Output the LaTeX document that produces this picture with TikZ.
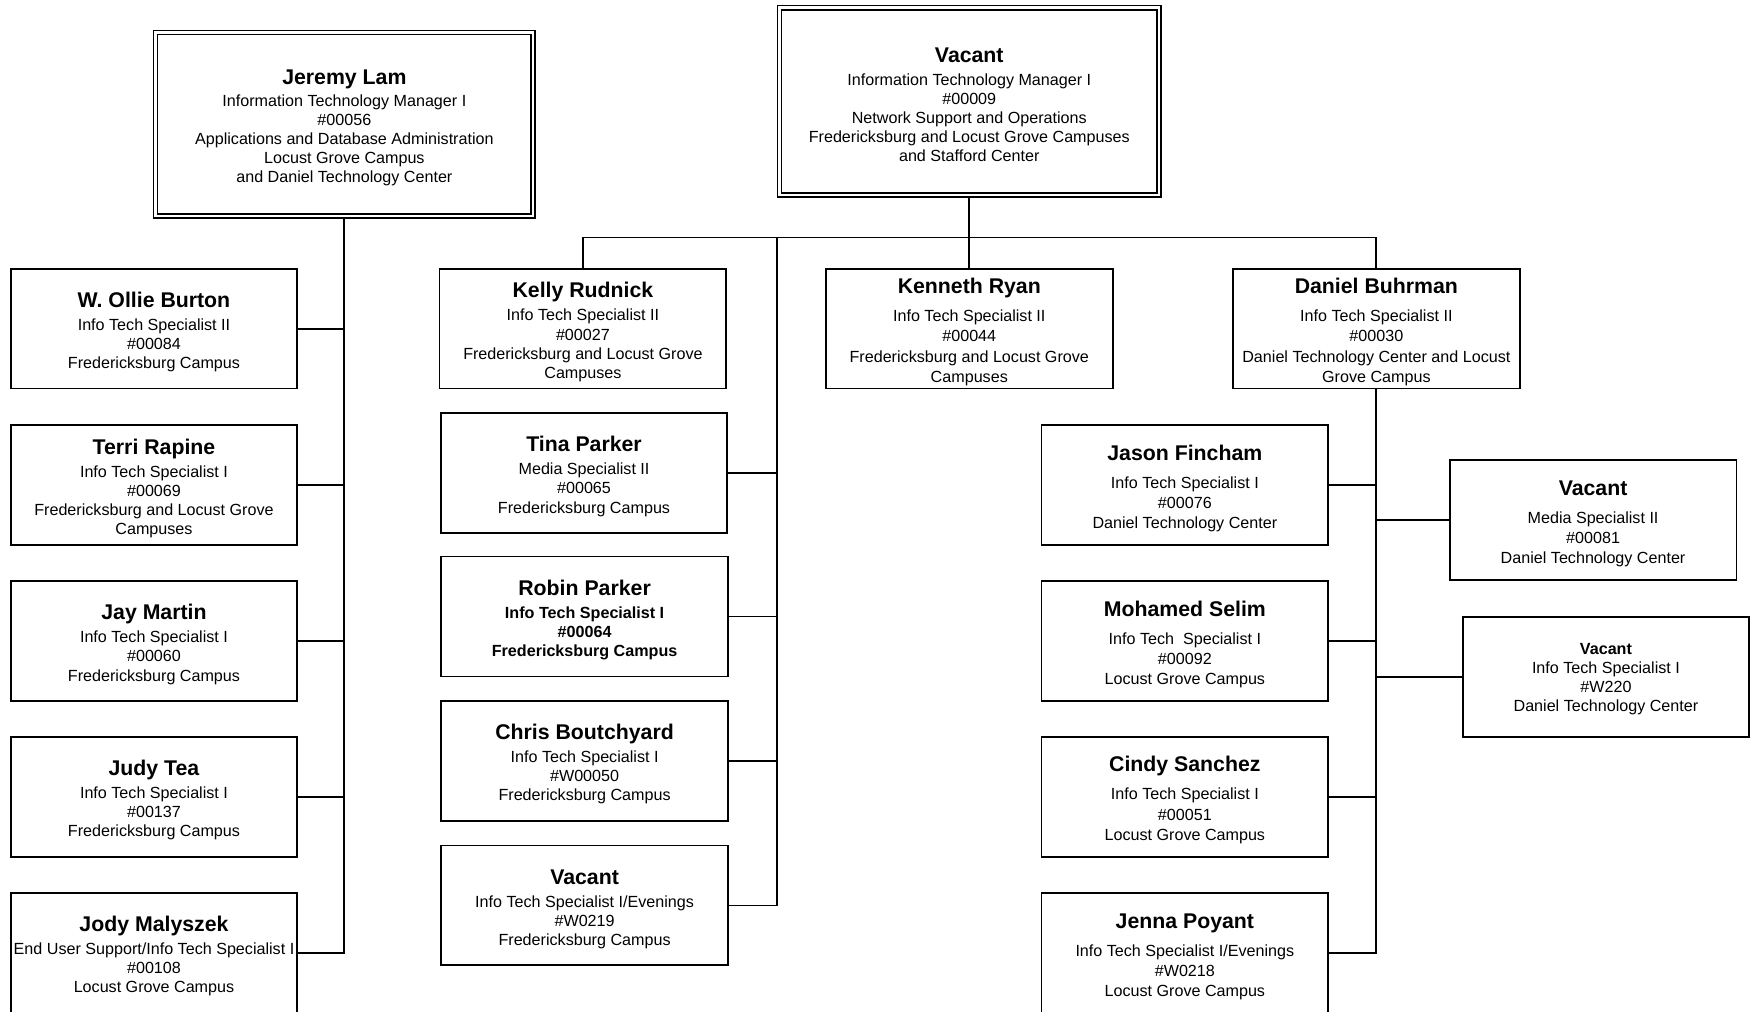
\documentclass[tikz,border=0pt]{standalone}
\usepackage{fontspec}
\setmainfont{Liberation Sans}

\newcommand{\who}[1]{\rule{0pt}{9.8pt}{\fontsize{9.5}{11}\selectfont\bfseries #1}}

\begin{document}
\begin{tikzpicture}[x=0.5pt,y=-0.5pt,line width=0.8pt,
    post/.style={draw,rectangle,align=center,inner sep=0pt,minimum width=128pt,
      minimum height=53.5pt,font=\fontsize{7.2}{8.5}\selectfont},
    wide/.style={post,font=\fontsize{7.2}{9}\selectfont},
    head/.style={post,double,double distance=1.2pt,line width=0.65pt}]
\useasboundingbox (0,0) rectangle (1568,903);
\clip (0,0) rectangle (1568,903);

\node[head,minimum width=168.5pt,minimum height=82pt] (lam) at (307.5,111)
  {\who{Jeremy Lam}\\[1.5pt] Information Technology Manager I\\ \#00056\\
   Applications and Database Administration\\ Locust Grove Campus\\ and Daniel Technology Center};
\node[head,minimum width=169.5pt,minimum height=83.5pt] (netmgr) at (865.5,90.5)
  {\who{Vacant}\\[1.5pt] Information Technology Manager I\\ \#00009\\
   Network Support and Operations\\ Fredericksburg and Locust Grove Campuses\\ and Stafford Center};

\node[post] (burton) at (137.5,293.5)
  {\who{W. Ollie Burton}\\[1.8pt] Info Tech Specialist II\\ \#00084\\ Fredericksburg Campus};
\node[post] (rapine) at (137.5,433)
  {\who{Terri Rapine}\\[1.8pt] Info Tech Specialist I\\ \#00069\\ Fredericksburg and Locust Grove\\ Campuses};
\node[post] (martin) at (137.5,572.5)
  {\who{Jay Martin}\\[1.8pt] Info Tech Specialist I\\ \#00060\\ Fredericksburg Campus};
\node[post] (tea) at (137.5,711.5)
  {\who{Judy Tea}\\[1.8pt] Info Tech Specialist I\\ \#00137\\ Fredericksburg Campus};
\node[post] (malyszek) at (137.5,851)
  {\who{Jody Malyszek}\\[1.8pt] End User Support/Info Tech Specialist I\\ \#00108\\ Locust Grove Campus};

\node[post] (rudnick) at (520.5,293.5)
  {\who{Kelly Rudnick}\\[1.8pt] Info Tech Specialist II\\ \#00027\\ Fredericksburg and Locust Grove\\ Campuses};
\node[post] (tparker) at (521.5,422.5)
  {\who{Tina Parker}\\[1.8pt] Media Specialist II\\ \#00065\\ Fredericksburg Campus};
\node[post,font=\fontsize{7.2}{8.5}\selectfont\bfseries] (rparker) at (522,550.5)
  {\who{Robin Parker}\\[1.8pt] Info Tech Specialist I\\ \#00064\\ Fredericksburg Campus};
\node[post] (boutchyard) at (522,679.5)
  {\who{Chris Boutchyard}\\[1.8pt] Info Tech Specialist I\\ \#W00050\\ Fredericksburg Campus};
\node[post] (evening) at (522,808.5)
  {\who{Vacant}\\[1.8pt] Info Tech Specialist I/Evenings\\ \#W0219\\ Fredericksburg Campus};

\node[wide] (ryan) at (865.5,293.5)
  {\who{Kenneth Ryan}\\[3.5pt] Info Tech Specialist II\\ \#00044\\ Fredericksburg and Locust Grove\\ Campuses};
\node[wide] (buhrman) at (1229,293.5)
  {\who{Daniel Buhrman}\\[3.5pt] Info Tech Specialist II\\ \#00030\\ Daniel Technology Center and Locust\\ Grove Campus};

\node[wide] (fincham) at (1058,433)
  {\who{Jason Fincham}\\[3.5pt] Info Tech Specialist I\\ \#00076\\ Daniel Technology Center};
\node[wide] (selim) at (1058,572.5)
  {\who{Mohamed Selim}\\[3.5pt] Info Tech~~Specialist I\\ \#00092\\ Locust Grove Campus};
\node[wide] (sanchez) at (1058,711.5)
  {\who{Cindy Sanchez}\\[3.5pt] Info Tech Specialist I\\ \#00051\\ Locust Grove Campus};
\node[wide] (poyant) at (1058,851)
  {\who{Jenna Poyant}\\[3.5pt] Info Tech Specialist I/Evenings\\ \#W0218\\ Locust Grove Campus};
\node[wide] (media) at (1422.5,464.5)
  {\who{Vacant}\\[3.5pt] Media Specialist II\\ \#00081\\ Daniel Technology Center};
\node[post] (wtwenty) at (1434,604.5)
  {\rule{0pt}{7pt}\textbf{Vacant}\\ Info Tech Specialist I\\ \#W220\\ Daniel Technology Center};

\coordinate (bus) at (865.5,212);
\coordinate (midtrunk) at (694,212);

\draw[shorten <=0.9pt] (lam.south) |- (malyszek.east);
\foreach \p in {burton,rapine,martin,tea}
  \draw (\p.east) -- (\p.east -| lam.south);

\draw[shorten <=0.9pt] (netmgr.south) -- (bus);
\draw (bus) -- (ryan.north);
\draw (rudnick.north) |- (bus) -| (buhrman.north);
\draw (midtrunk) |- (evening.east);
\foreach \p in {tparker,rparker,boutchyard}
  \draw (\p.east) -- (\p.east -| midtrunk);

\draw (buhrman.south) |- (poyant.east);
\foreach \p in {fincham,selim,sanchez}
  \draw (\p.east) -- (\p.east -| buhrman.south);
\foreach \p in {media,wtwenty}
  \draw (\p.west) -- (\p.west -| buhrman.south);
\end{tikzpicture}
\end{document}
